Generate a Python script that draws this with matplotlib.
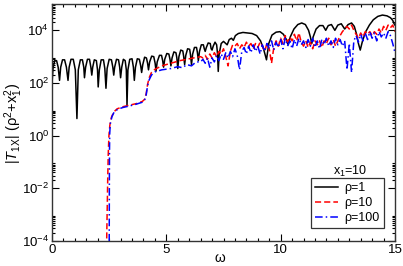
import numpy as np
import matplotlib
matplotlib.use("Agg")
import matplotlib.pyplot as plt
from matplotlib.ticker import FixedLocator, NullFormatter

plt.rcParams['font.family'] = ['Liberation Sans', 'DejaVu Sans']
plt.rcParams['mathtext.fontset'] = 'custom'
plt.rcParams['mathtext.rm'] = 'Liberation Sans'
plt.rcParams['mathtext.it'] = 'Liberation Sans:italic'
plt.rcParams['mathtext.sf'] = 'Liberation Sans'

# ---- data (log10 of the plotted quantity) ----
rho1_omega = [0.00, 0.05, 0.12, 0.20, 0.27, 0.33, 0.38, 0.46, 0.55, 0.63, 0.70, 0.75, 0.83, 0.93, 1.02, 1.09,
              1.15, 1.24, 1.33, 1.39, 1.42, 1.47, 1.55, 1.64, 1.70, 1.74, 1.78, 1.85, 1.94, 1.99, 2.02, 2.07,
              2.15, 2.25, 2.31, 2.36, 2.41, 2.50, 2.60, 2.66, 2.70, 2.74, 2.82, 2.91, 2.96, 3.00, 3.05, 3.12,
              3.20, 3.25, 3.28, 3.32, 3.40, 3.50, 3.56, 3.60, 3.65, 3.73, 3.82, 3.88, 3.92, 3.97, 4.05, 4.13,
              4.18, 4.22, 4.27, 4.36, 4.45, 4.51, 4.55, 4.60, 4.70, 4.79, 4.84, 4.88, 4.93, 5.02, 5.11, 5.16,
              5.20, 5.25, 5.33, 5.42, 5.46, 5.50, 5.55, 5.63, 5.72, 5.76, 5.80, 5.85, 5.93, 6.02, 6.06, 6.10,
              6.15, 6.23, 6.32, 6.36, 6.40, 6.45, 6.53, 6.62, 6.66, 6.70, 6.75, 6.83, 6.92, 6.96, 7.00, 7.05,
              7.13, 7.20, 7.24, 7.27, 7.31, 7.40, 7.50, 7.60, 7.66, 7.75, 7.85, 7.93, 8.02, 8.15, 8.35, 8.55,
              8.75, 8.95, 9.12, 9.25, 9.38, 9.48, 9.62, 9.80, 9.97, 10.12, 10.25, 10.33, 10.42, 10.58, 10.75,
              10.92, 11.08, 11.22, 11.30, 11.36, 11.42, 11.55, 11.70, 11.85, 11.97, 12.08, 12.22, 12.37, 12.50,
              12.65, 12.80, 12.95, 13.10, 13.22, 13.32, 13.40, 13.48, 13.58, 13.72, 13.88, 14.05, 14.25, 14.45,
              14.65, 14.80, 14.90, 14.96, 15.00]
rho1_log = [2.0, 2.6, 2.85, 2.85, 2.6, 2.1, 2.6, 2.88, 2.88, 2.6, 2.1, 2.6, 2.9, 2.9, 2.5, 0.65,
            2.5, 2.88, 2.88, 2.6, 2.2, 2.6, 2.9, 2.9, 2.6, 2.3, 2.6, 2.88, 2.85, 2.5, 1.85, 2.5,
            2.88, 2.88, 2.55, 1.8, 2.55, 2.9, 2.88, 2.6, 2.3, 2.6, 2.9, 2.88, 2.6, 2.2, 2.6, 2.9,
            2.85, 2.5, 1.15, 2.5, 2.9, 2.92, 2.6, 2.1, 2.6, 2.92, 2.9, 2.65, 2.4, 2.7, 2.98, 2.95,
            2.75, 2.5, 2.8, 3.02, 3.0, 2.75, 2.45, 2.8, 3.05, 3.05, 2.85, 2.6, 2.9, 3.12, 3.1, 2.9,
            2.65, 2.95, 3.18, 3.15, 2.95, 2.55, 3.0, 3.25, 3.22, 3.0, 2.7, 3.05, 3.3, 3.28, 3.05, 2.7,
            3.1, 3.35, 3.35, 3.15, 2.85, 3.2, 3.45, 3.45, 3.3, 3.2, 3.35, 3.52, 3.5, 3.3, 3.25, 3.4,
            3.55, 3.45, 3.1, 2.44, 3.1, 3.5, 3.58, 3.5, 3.45, 3.65, 3.7, 3.62, 3.8, 3.88, 3.92, 3.9,
            3.88, 3.8, 3.6, 3.3, 2.88, 3.5, 3.82, 3.93, 3.95, 3.85, 3.65, 3.45, 3.75, 4.05, 4.22,
            4.28, 4.22, 4.0, 3.75, 3.5, 3.75, 4.05, 4.18, 4.18, 4.0, 4.18, 4.22, 4.0, 4.2,
            4.25, 4.05, 4.22, 4.28, 4.15, 3.85, 3.5, 3.25, 3.6, 3.95, 4.2, 4.4, 4.53, 4.58,
            4.55, 4.48, 4.38, 4.25, 4.2]

rho10_omega = [2.38, 2.40, 2.42, 2.44, 2.46, 2.49, 2.53, 2.60, 2.70, 2.85, 3.1, 3.4, 3.7, 3.95, 4.05, 4.12,
               4.18, 4.25, 4.35, 4.5, 4.8, 5.2, 5.6, 6.0, 6.3,
               6.5, 6.6, 6.7, 6.8, 6.9, 7.0, 7.1, 7.2, 7.3, 7.4, 7.5, 7.6, 7.7, 7.8, 7.9, 8.0, 8.1, 8.2,
               8.3, 8.4, 8.5, 8.6, 8.7, 8.8, 8.9, 9.0, 9.1, 9.2, 9.3, 9.4, 9.5, 9.6, 9.7, 9.8, 9.9, 10.0,
               10.1, 10.2, 10.3, 10.4, 10.5, 10.6, 10.7, 10.8, 10.9, 11.0, 11.1, 11.2, 11.3, 11.4, 11.5,
               11.6, 11.7, 11.8, 11.9, 12.0, 12.1, 12.2, 12.3, 12.4, 12.5, 12.6, 12.7, 12.8, 12.9, 13.0,
               13.1, 13.2, 13.3, 13.4, 13.5, 13.6, 13.7, 13.8, 13.9, 14.0, 14.1, 14.2, 14.3, 14.4, 14.5,
               14.6, 14.7, 14.8, 14.9, 15.0]
rho10_log = [-4.6, -3.5, -2.5, -1.5, -0.7, 0.0, 0.4, 0.7, 0.9, 1.02, 1.1, 1.16, 1.22, 1.3, 1.38, 1.6,
             1.95, 2.2, 2.4, 2.52, 2.65, 2.75, 2.85, 2.92, 2.97,
             3.0, 2.95, 3.05, 2.9, 3.1, 2.95, 3.15, 3.0, 3.2, 3.1, 3.3, 3.0, 2.65, 3.2, 3.45, 3.4, 3.5, 3.3,
             3.45, 3.35, 3.55, 3.4, 3.5, 3.3, 3.5, 3.35, 3.55, 3.4, 3.2, 3.5, 3.3, 2.75, 3.35, 3.6, 3.4, 3.7,
             3.5, 3.8, 3.55, 3.75, 3.6, 3.85, 3.6, 3.9, 3.55, 3.4, 3.6, 3.35, 3.55, 3.3, 3.6,
             3.45, 3.6, 3.35, 3.6, 3.5, 3.7, 3.45, 3.65, 3.4, 3.6, 3.8, 3.95, 4.05, 4.15, 4.05,
             4.2, 4.0, 3.85, 3.7, 3.9, 3.75, 3.95, 3.85, 3.95, 3.8, 3.95, 3.85, 4.05, 3.9, 4.15,
             4.0, 4.2, 4.1, 4.2, 3.95]

rho100_omega = [2.50, 2.505, 2.51, 2.515, 2.525, 2.55, 2.62, 2.72, 2.87, 3.1, 3.4, 3.7, 3.95, 4.05, 4.12,
                4.18, 4.25, 4.35, 4.5, 4.8, 5.2, 5.5, 5.7, 5.9, 6.1, 6.3,
                6.5, 6.6, 6.7, 6.8, 6.9, 7.0, 7.1, 7.2, 7.3, 7.4, 7.5, 7.6, 7.7, 7.8, 7.9, 8.0, 8.1, 8.2,
                8.3, 8.4, 8.5, 8.6, 8.7, 8.8, 8.9, 9.0, 9.1, 9.2, 9.3, 9.4, 9.5, 9.6, 9.7, 9.8, 9.9, 10.0,
                10.1, 10.2, 10.3, 10.4, 10.5, 10.6, 10.7, 10.8, 10.9, 11.0, 11.1, 11.2, 11.3, 11.4, 11.5,
                11.6, 11.7, 11.8, 11.9, 12.0, 12.1, 12.2, 12.3, 12.4, 12.5, 12.6, 12.7, 12.8, 12.9, 13.0,
                13.1, 13.2, 13.3, 13.4, 13.5, 13.6, 13.7, 13.8, 13.9, 14.0, 14.1, 14.2, 14.3, 14.4, 14.5,
                14.6, 14.7, 14.8, 14.9, 15.0]
rho100_log = [-4.6, -3.0, -1.5, -0.5, 0.1, 0.45, 0.72, 0.9, 1.0, 1.07, 1.13, 1.2, 1.27, 1.35, 1.55,
              1.9, 2.12, 2.3, 2.42, 2.5, 2.55, 2.62, 2.58, 2.7, 2.65, 2.8,
              2.8, 2.9, 2.75, 2.95, 2.6, 2.95, 2.8, 3.05, 2.85, 3.1, 2.9, 3.15, 2.95, 3.2, 3.0, 3.3, 3.05, 2.5,
              3.2, 3.35, 3.1, 3.4, 3.15, 3.45, 3.2, 3.4, 3.1, 3.45, 3.2, 3.5, 3.3, 3.6, 3.25, 3.55, 3.35, 3.65,
              3.3, 3.7, 3.4, 3.6, 3.3, 3.65, 3.4, 3.7, 3.45, 3.6, 3.35, 3.65, 3.4, 3.7, 3.35,
              3.6, 3.3, 3.65, 3.45, 3.7, 3.4, 3.6, 3.35, 3.7, 3.45, 3.65, 3.4, 3.6, 2.5, 3.5,
              2.4, 3.6, 3.8, 3.55, 3.85, 3.6, 3.9, 3.65, 3.95, 3.7, 3.9, 3.6, 3.95, 3.75, 3.9,
              3.7, 3.95, 3.8, 3.5, 3.15]

series_labels = ['ρ=1', 'ρ=10', 'ρ=100']
legend_title = r'x$_1$=10'
x_ticks = [0, 5, 10, 15]
y_exponents = [-4, -2, 0, 2, 4]

# ---- figure ----
fig = plt.figure(figsize=(4.03, 2.66), dpi=100)
ax = fig.add_axes([52 / 403, 25 / 266, 343 / 403, 237 / 266])

ax.plot(rho1_omega, 10 ** np.array(rho1_log), color='black', lw=1.1, ls='-', label=series_labels[0])
ax.plot(rho10_omega, 10 ** np.array(rho10_log), color='#ff0000', lw=1.1, ls=(0, (4, 2)), label=series_labels[1])
ax.plot(rho100_omega, 10 ** np.array(rho100_log), color='#0000ff', lw=1.1, ls=(0, (5, 2, 1, 2)), label=series_labels[2])

ax.set_yscale('log')
ax.set_xlim(0, 15)
ax.set_ylim(1e-4, 1e5)

ax.xaxis.set_major_locator(FixedLocator(x_ticks))
ax.xaxis.set_minor_locator(FixedLocator(np.arange(0, 15.01, 0.5)))
ax.set_xticklabels([str(t) for t in x_ticks])

ax.yaxis.set_major_locator(FixedLocator([10.0 ** e for e in y_exponents]))
ax.set_yticklabels([r'$10^{%d}$' % e for e in y_exponents])
minors = []
for e in [-4, -2, 0, 2, 4]:
    for m in range(2, 10):
        minors.append(m * 10.0 ** e)
ax.yaxis.set_minor_locator(FixedLocator(minors))
ax.yaxis.set_minor_formatter(NullFormatter())

ax.tick_params(which='both', direction='in', top=True, right=True, labelsize=9.5, colors='black')
ax.tick_params(which='major', length=5, width=0.8, pad=2)
ax.tick_params(which='minor', length=2.5, width=0.8)
for s in ax.spines.values():
    s.set_linewidth(1.0)
    s.set_color('#333333')

fig.text(220 / 403, 1 - 258 / 266, 'ω', fontsize=10, ha='center', va='center')
fig.text(14 / 403, 1 - 124 / 266, r'|$T_{\mathrm{1X}}$| (ρ$^2$+x$_1^2$)', fontsize=10.5,
         rotation=90, ha='center', va='center')

leg = ax.legend(loc='upper left', bbox_to_anchor=(0.755, 0.265), frameon=True, fancybox=False,
                edgecolor='black', fontsize=9, handlelength=1.9, handletextpad=0.5,
                labelspacing=0.25, borderpad=0.3, borderaxespad=0)
leg.get_frame().set_linewidth(0.9)
ax.text(0.87, 0.295, legend_title, transform=ax.transAxes, ha='center', va='center', fontsize=9)

fig.savefig('out.png', dpi=100)
